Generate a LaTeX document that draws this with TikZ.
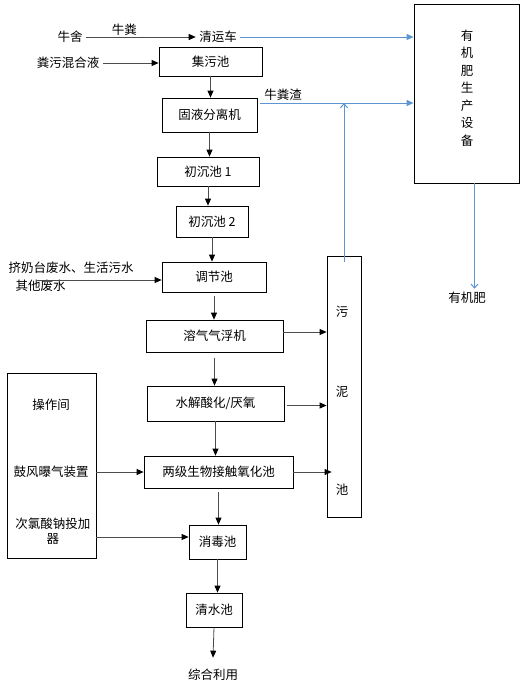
\documentclass[tikz,border=0pt]{standalone}
\usepackage{fontspec}
\setmainfont{Noto Sans CJK SC}
\usetikzlibrary{arrows.meta}
\definecolor{blu}{RGB}{91,150,210}

\begin{document}
\begin{tikzpicture}[x=1pt, y=-1pt,
    font=\fontsize{12.5}{15}\selectfont,
    box/.style={draw, line width=0.8pt, inner sep=0pt},
    freccia/.style={draw=black!70, line width=0.8pt, -{Triangle[length=7pt,width=6pt,color=black]}},
    frecciablu/.style={draw=blu, line width=1pt, -{Triangle[length=7pt,width=6pt]}},
    punta/.style={draw=blu, line width=1pt, -{Straight Barb[length=4pt,width=7pt]}}]
    \useasboundingbox (0,0) rectangle (527,691);
    % VASCHE
    \node[box, minimum width=103pt, minimum height=29pt] (JW) at (210.5,61.5) {集污池};
    \node[box, minimum width=95pt, minimum height=34pt] (GY) at (209.5,115) {固液分离机};
    \node[box, minimum width=102pt, minimum height=29pt] (C1) at (208,171.5) {初沉池 1};
    \node[box, minimum width=72pt, minimum height=31pt] (C2) at (212,221.5) {初沉池 2};
    \node[box, minimum width=104pt, minimum height=30pt] (TJ) at (214,277) {调节池};
    \node[box, minimum width=137pt, minimum height=32pt] (RQ) at (214.5,336) {溶气气浮机};
    \node[box, minimum width=137pt, minimum height=35pt] (SJ) at (215.5,403.5) {水解酸化/厌氧};
    \node[box, minimum width=149pt, minimum height=32pt] (LJ) at (218.5,472) {两级生物接触氧化池};
    \node[box, minimum width=57pt, minimum height=34pt] (XD) at (217.5,542) {消毒池};
    \node[box, minimum width=56pt, minimum height=34pt] (QS) at (214,610) {清水池};
    \node (ZH) at (213,675) {综合利用};
    % FANGHI
    \node[box, minimum width=34pt, minimum height=261pt] (WN) at (344,386.5) {};
    \node (W1) at (342,312) {污};
    \node (W2) at (342,392) {泥};
    \node (W3) at (342,490) {池};
    % CONCIME
    \node[box, minimum width=105pt, minimum height=179pt] (YJ) at (466.5,93.5) {};
    \node[align=center, font=\fontsize{12.5}{17.5}\selectfont] (YJt) at (467,88) {有\\机\\肥\\生\\产\\设\\备};
    \node (YJF) at (467,298) {有机肥};
    % LOCALE OPERATIVO
    \node[box, minimum width=89pt, minimum height=185pt] (CZ) at (51.5,465.5) {};
    \node (CZt) at (51,405) {操作间};
    \node (GF) at (51,472) {鼓风曝气装置};
    \node[align=center, inner sep=1pt] (CL) at (53,531) {次氯酸钠投加\\器};
    % INGRESSI
    \node (NS) at (70,37) {牛舍};
    \node (QY) at (218,37) {清运车};
    \node (FW) at (68,63) {粪污混合液};
    \node[anchor=west] (JN1) at (5,268) {挤奶台废水、生活污水};
    \node[anchor=west] (JN2) at (12,286) {其他废水};
    \coordinate (JN) at (37,280);
    \coordinate (ZHA) at (260,103);
    \coordinate (NaClO) at (96,537);

    \draw[freccia] (NS.east) -- node[above, pos=0.35, inner sep=1pt] {牛粪} (QY.west);
    \draw[freccia] (FW.east) -- (FW.east -| JW.west);
    \draw[freccia] (JN) -- (JN -| TJ.west);
    \draw[freccia] (JW.south) -- (JW.south |- GY.north);
    \draw[freccia] (GY.south) -- (GY.south |- C1.north);
    \draw[freccia] (C1.south) -- (C1.south |- C2.north);
    \draw[freccia] (C2.south) -- (C2.south |- TJ.north);
    \draw[freccia] ([yshift=-4pt]TJ.south) -- (TJ.south |- RQ.north);
    \draw[freccia] ([yshift=-6pt]RQ.south) -- (RQ.south |- SJ.north);
    \draw[freccia] (SJ.south) -- (SJ.south |- LJ.north);
    \draw[freccia] ([yshift=-4pt]LJ.south) -- (LJ.south |- XD.north);
    \draw[freccia] (XD.south) -- (XD.south |- QS.north);
    \draw[freccia] (QS.south) -- ([yshift=8pt]ZH.north);
    \draw[freccia] ([yshift=4pt]RQ.east) -- ([yshift=4pt]RQ.east -| WN.west);
    \draw[freccia] ([xshift=3pt,yshift=-2pt]SJ.east) -- ([yshift=-2pt]SJ.east -| WN.west);
    \draw[freccia] (LJ.east) -- ([xshift=5pt]LJ.east -| WN.west);
    \draw[freccia] (GF.east -| CZ.east) -- (GF.east -| LJ.west);
    \draw[freccia] (NaClO) -- (NaClO -| XD.west);
    % LINEE BLU
    \draw[frecciablu] (QY.east) -- (QY.east -| YJ.west);
    \draw[frecciablu] (ZHA) -- node[above, pos=0.15, text=black, inner sep=2pt] {牛粪渣} (ZHA -| YJ.west);
    \draw[punta] ([yshift=-6pt]WN.north) -- (WN.north |- ZHA);
    \draw[punta] ([xshift=8pt]YJ.south) -- ([xshift=8pt]YJ.south |- YJF.north);
\end{tikzpicture}
\end{document}
